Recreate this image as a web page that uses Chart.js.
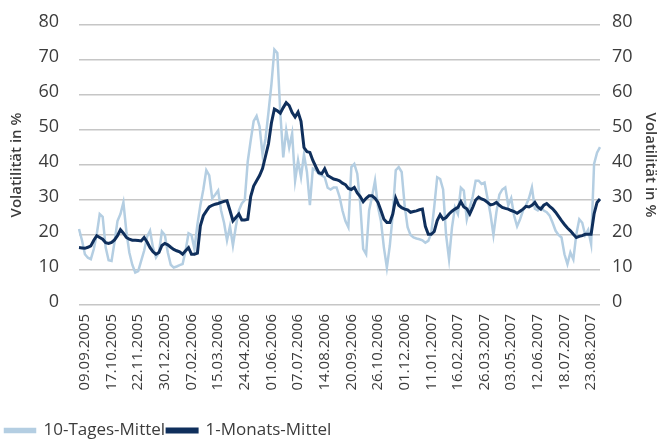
<!DOCTYPE html>
<html>
<head>
<meta charset="utf-8">
<script src="https://cdn.jsdelivr.net/npm/chart.js@4/dist/chart.umd.min.js"></script>
<style>
  html, body { margin: 0; padding: 0; background: #fff; }
  #wrap { width: 659px; height: 439px; }
</style>
</head>
<body>
<div id="wrap"><canvas id="chart"></canvas></div>
<script>
// Datumsbeschriftungen (alle 9 Punkte eine)
const tickDates = ['09.09.2005', '17.10.2005', '22.11.2005', '30.12.2005', '07.02.2006',
  '15.03.2006', '24.04.2006', '01.06.2006', '07.07.2006', '14.08.2006', '20.09.2006',
  '26.10.2006', '01.12.2006', '11.01.2007', '16.02.2007', '26.03.2007', '03.05.2007',
  '12.06.2007', '18.07.2007', '23.08.2007'];

// 10-Tages-Mittel (Volatilität in %)
const tages10 = [
  21.7, 18.5, 14.5, 13.5, 13.1, 16.0, 20.2, 26.0, 25.2, 16.5,
  12.8, 12.6, 18.0, 24.0, 26.0, 29.3, 21.0, 15.0, 11.5, 9.3,
  9.7, 12.6, 15.5, 19.5, 21.2, 16.4, 13.6, 15.0, 21.0, 20.0,
  15.0, 11.5, 10.7, 11.0, 11.4, 11.7, 15.5, 20.5, 20.0, 16.0,
  23.0, 28.5, 33.0, 38.5, 37.0, 30.5, 31.5, 32.7, 27.0, 23.5,
  18.5, 22.5, 17.0, 22.5, 27.0, 29.0, 30.0, 41.0, 47.0, 52.5,
  54.0, 51.0, 43.0, 47.5, 55.0, 63.0, 73.0, 72.0, 55.0, 42.2,
  50.0, 45.0, 49.0, 35.5, 41.3, 36.5, 43.0, 38.0, 28.5, 39.0,
  38.5, 37.5, 37.0, 36.5, 33.5, 33.0, 33.6, 33.6, 31.0, 27.0,
  24.0, 22.2, 39.4, 40.3, 37.5, 29.0, 16.0, 14.5, 27.0, 31.0,
  35.5, 28.0, 24.0, 16.4, 10.7, 17.0, 26.0, 38.5, 39.4, 38.0,
  28.5, 22.2, 20.0, 19.3, 19.0, 18.8, 18.5, 17.8, 18.3, 20.5,
  28.0, 36.5, 36.0, 33.0, 20.0, 13.1, 22.2, 27.9, 26.0, 33.5,
  32.7, 24.5, 27.9, 31.0, 35.5, 35.5, 34.6, 35.0, 30.5, 26.0,
  20.0, 26.5, 31.5, 33.0, 33.6, 28.5, 30.5, 25.5, 22.5, 24.5,
  27.0, 28.5, 30.5, 33.6, 27.5, 27.0, 27.9, 27.0, 26.5, 25.5,
  23.5, 21.2, 20.0, 19.3, 14.5, 11.7, 15.0, 13.0, 20.2, 24.5,
  23.5, 20.0, 21.5, 17.4, 40.3, 43.5, 45.1
];

// 1-Monats-Mittel (Volatilität in %)
const monat1 = [
  16.4, 16.3, 16.2, 16.5, 16.9, 18.5, 19.8, 19.3, 18.8, 17.8,
  17.6, 17.9, 18.6, 19.8, 21.5, 20.5, 19.3, 18.8, 18.5, 18.5,
  18.4, 18.3, 19.3, 18.0, 16.4, 15.2, 14.5, 15.0, 17.0, 17.6,
  17.2, 16.5, 15.9, 15.5, 15.2, 14.5, 15.5, 16.4, 14.5, 14.5,
  14.8, 22.6, 25.5, 26.8, 28.0, 28.5, 28.8, 29.0, 29.3, 29.6,
  29.8, 27.0, 24.0, 25.0, 26.0, 24.3, 24.3, 24.5, 31.0, 34.0,
  35.5, 37.0, 39.0, 42.5, 46.0, 52.0, 56.0, 55.5, 54.8, 56.4,
  57.8, 57.0, 55.0, 53.7, 55.1, 52.5, 45.0, 43.8, 43.6, 41.3,
  39.5, 37.8, 37.5, 38.9, 37.0, 36.5, 36.0, 35.8, 35.5, 34.8,
  34.4, 33.3, 33.0, 33.6, 32.0, 31.0, 29.5, 30.5, 31.2, 31.2,
  30.5, 29.3, 27.0, 24.5, 23.6, 23.6, 26.0, 30.5, 28.5, 27.8,
  27.4, 27.2, 26.5, 26.7, 26.9, 27.2, 27.4, 22.5, 20.2, 20.2,
  21.0, 24.1, 25.8, 24.5, 25.0, 26.0, 26.8, 27.4, 27.9, 29.5,
  28.0, 27.5, 26.0, 27.9, 30.0, 30.8, 30.3, 30.0, 29.3, 28.6,
  28.8, 29.3, 28.5, 27.9, 27.6, 27.4, 27.0, 26.7, 26.2, 26.8,
  27.4, 28.2, 28.0, 28.5, 29.3, 28.0, 27.4, 28.5, 29.0, 28.2,
  27.5, 26.5, 25.3, 24.1, 23.0, 22.0, 21.2, 20.2, 19.3, 19.6,
  19.8, 20.2, 20.2, 20.2, 26.0, 29.3, 30.3
];

const yTicks = [0, 10, 20, 30, 40, 50, 60, 70, 80];

// Kategorien: Datum an jedem 9. Punkt, beginnend bei Index 2
const labels = tages10.map(function (v, i) {
  return (i - 2) % 9 === 0 && i >= 2 ? (tickDates[(i - 2) / 9] || '') : '';
});

const textColor = '#3c3c3c';
const gridColor = '#c6c6c6';
const fontFamily = '"Open Sans", "Liberation Sans", sans-serif';

// Legende etwas nach unten/rechts schieben
const legendShift = {
  id: 'legendShift',
  afterLayout: function (chart) {
    const lg = chart.legend;
    if (!lg) return;
    lg.top += 10; lg.bottom += 10;
    lg.left += 3; lg.right += 3;
  }
};

function fixedYWidth(w) {
  return function (scale) {
    scale.width = w;
    scale.paddingTop = 0;
    scale.paddingBottom = 0;
  };
}

const ctx = document.getElementById('chart').getContext('2d');
new Chart(ctx, {
  type: 'line',
  data: {
    labels: labels,
    datasets: [
      {
        label: '10-Tages-Mittel',
        data: tages10,
        borderColor: '#b4cee2',
        backgroundColor: '#b4cee2',
        borderWidth: 2.5,
        pointRadius: 0,
        tension: 0,
        order: 1
      },
      {
        label: '1-Monats-Mittel',
        data: monat1,
        borderColor: '#0f2f5c',
        backgroundColor: '#0f2f5c',
        borderWidth: 3,
        pointRadius: 0,
        tension: 0,
        order: 0
      }
    ]
  },
  plugins: [legendShift],
  options: {
    responsive: true,
    maintainAspectRatio: false,
    animation: false,
    layout: { padding: { top: 25, bottom: 0, left: 0, right: 0 } },
    plugins: {
      tooltip: { enabled: false },
      legend: {
        position: 'bottom',
        align: 'start',
        labels: {
          boxWidth: 30,
          boxHeight: 3,
          padding: 2,
          color: textColor,
          font: { family: fontFamily, size: 17 },
          sort: function (a, b) { return a.datasetIndex - b.datasetIndex; }
        }
      }
    },
    scales: {
      x: {
        grid: { display: false, drawTicks: false },
        border: { display: false },
        ticks: {
          autoSkip: false,
          minRotation: 90,
          maxRotation: 90,
          padding: 9,
          color: textColor,
          font: { family: fontFamily, size: 15 }
        },
        afterFit: function (scale) { scale.height = 105; }
      },
      y: {
        position: 'left',
        min: 0,
        max: 80,
        afterBuildTicks: function (scale) { scale.ticks = yTicks.map(function (v) { return { value: v }; }); },
        grid: { color: gridColor, lineWidth: 1.5, drawTicks: false },
        border: { display: false },
        ticks: { padding: 20, labelOffset: -3, color: textColor, font: { family: fontFamily, size: 18 } },
        title: {
          display: true,
          text: 'Volatilität in %',
          color: textColor,
          font: { family: fontFamily, size: 15, weight: '600' },
          padding: { top: 8, bottom: 0 }
        },
        afterFit: fixedYWidth(79)
      },
      y2: {
        position: 'right',
        min: 0,
        max: 80,
        afterBuildTicks: function (scale) { scale.ticks = yTicks.map(function (v) { return { value: v }; }); },
        grid: { display: false, drawTicks: false },
        border: { display: false },
        ticks: { padding: 12, labelOffset: -3, color: textColor, font: { family: fontFamily, size: 18 } },
        title: {
          display: true,
          text: 'Volatilität in %',
          color: textColor,
          font: { family: fontFamily, size: 15, weight: '600' },
          padding: { top: 0, bottom: 0 }
        },
        afterFit: fixedYWidth(59)
      }
    }
  }
});
</script>
</body>
</html>
